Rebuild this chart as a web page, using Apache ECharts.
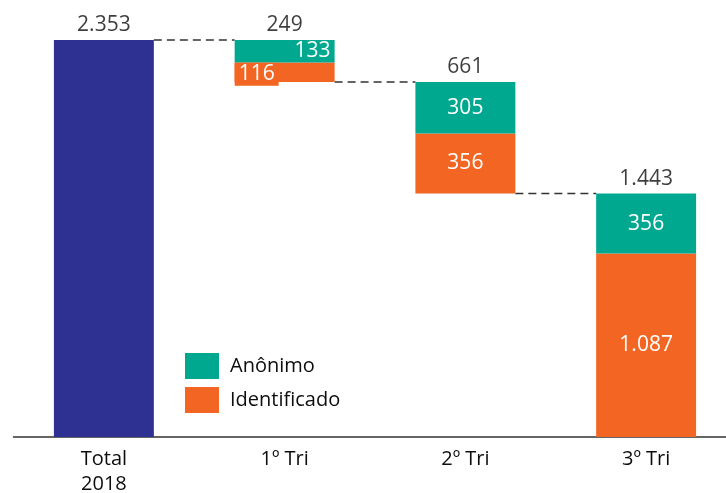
<!DOCTYPE html>
<html>
<head>
<meta charset="utf-8">
<script src="https://cdn.jsdelivr.net/npm/echarts@6/dist/echarts.min.js"></script>
<style>
  html, body { margin: 0; padding: 0; background: #fff; }
  #chart { width: 726px; height: 493px; }
</style>
</head>
<body>
<div id="chart"></div>
<script>
// Manifestações por trimestre (waterfall a partir do total anual)
const categories = ['Total\n2018', '1º Tri', '2º Tri', '3º Tri'];
const totalAno = [2353, '-', '-', '-'];
const anonimo = ['-', 133, 305, 356];
const identificado = ['-', 116, 356, 1087];
const totaisColuna = [2353, 249, 661, 1443];
// Base invisível de cada coluna (onde o degrau começa)
const bases = [0, 2104, 1443, 0];

const FONT = '"Open Sans", "Liberation Sans", sans-serif';
const BAR_FRAC = 0.553;
const C_NAVY = '#2E3192', C_GREEN = '#00A88F', C_ORANGE = '#F26522';
const C_TEXT = '#0d0d0d';

function fmt(v) {
  return String(v).replace(/\B(?=(\d{3})+(?!\d))/g, '.');
}

// Topo de cada coluna, onde fica o rótulo do total
const topos = bases.map((b, i) => [i, b + totaisColuna[i]]);
// Conectores tracejados entre colunas vizinhas
const conectores = [];
for (let i = 0; i < categories.length - 1; i++) {
  conectores.push([i, bases[i + 1] + totaisColuna[i + 1]]);
}

const innerLabel = { show: true, color: '#fff', fontSize: 21, fontFamily: FONT, formatter: p => fmt(p.value) };

const chart = echarts.init(document.getElementById('chart'));
chart.setOption({
  animation: false,
  grid: { left: 13.5, width: 723, top: 40, bottom: 56, outerBoundsMode: 'none', containLabel: false },
  legend: {
    data: ['Anônimo', 'Identificado'],
    orient: 'vertical',
    left: 185, top: 353, padding: 0,
    icon: 'rect',
    itemWidth: 34, itemHeight: 26, itemGap: 8,
    textStyle: { fontSize: 20, color: C_TEXT, fontFamily: FONT, padding: [0, 0, 0, 6] }
  },
  xAxis: {
    type: 'category',
    data: categories,
    axisTick: { show: false },
    axisLine: { lineStyle: { color: '#333', width: 1.5 } },
    axisLabel: { fontSize: 20, color: C_TEXT, fontFamily: FONT, margin: 10, lineHeight: 25, verticalAlign: 'top' }
  },
  yAxis: { type: 'value', min: 0, max: 2353, show: false, splitLine: { show: false } },
  series: [
    {
      name: 'base', type: 'bar', stack: 'w', barWidth: (BAR_FRAC * 100) + '%',
      itemStyle: { color: 'transparent' }, data: bases, silent: true
    },
    {
      name: 'Total', type: 'bar', stack: 'w', data: totalAno,
      itemStyle: { color: C_NAVY }
    },
    {
      name: 'Identificado', type: 'bar', stack: 'w',
      itemStyle: { color: C_ORANGE },
      label: innerLabel,
      data: identificado.map((v, i) => i === 1 ? {
        value: v,
        label: { position: 'insideLeft', distance: 0, backgroundColor: C_ORANGE, padding: [1, 4, 1, 4], offset: [0, 2] }
      } : v)
    },
    {
      name: 'Anônimo', type: 'bar', stack: 'w',
      itemStyle: { color: C_GREEN },
      label: innerLabel,
      data: anonimo.map((v, i) => i === 1 ? {
        value: v, label: { position: 'insideRight', distance: 4 }
      } : v)
    },
    {
      name: 'totais', type: 'scatter', symbolSize: 0, silent: true,
      data: topos,
      label: {
        show: true, position: 'top', distance: 4, color: C_TEXT, fontSize: 21, fontFamily: FONT,
        formatter: p => fmt(totaisColuna[p.dataIndex])
      }
    },
    {
      name: 'conectores', type: 'custom', silent: true,
      data: conectores,
      renderItem: function (params, api) {
        const i = api.value(0), lvl = api.value(1);
        const a = api.coord([i, lvl]);
        const b = api.coord([i + 1, lvl]);
        const half = api.size([1, 0])[0] * BAR_FRAC / 2;
        return {
          type: 'line',
          shape: { x1: a[0] + half, y1: a[1], x2: b[0] - half, y2: b[1] },
          style: { stroke: '#333', lineWidth: 1.5, lineDash: [8, 5] }
        };
      }
    }
  ]
});
</script>
</body>
</html>
